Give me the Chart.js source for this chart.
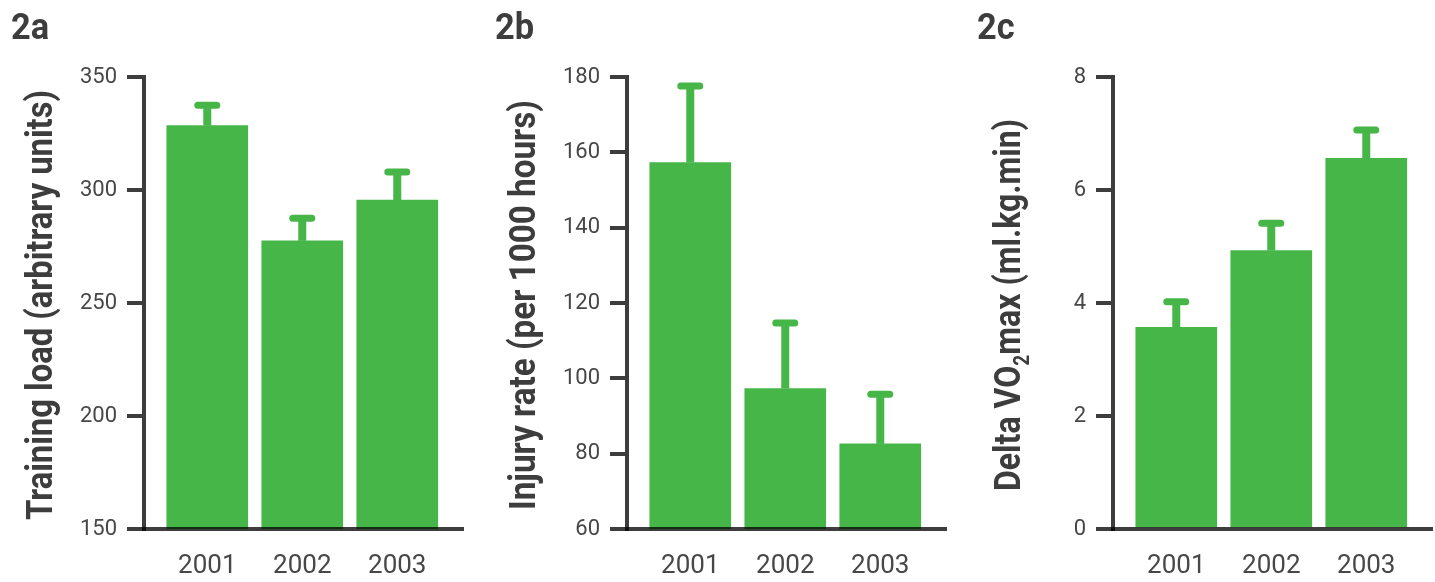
<!DOCTYPE html>
<html>
<head>
<meta charset="utf-8">
<script src="https://cdn.jsdelivr.net/npm/chart.js@4.4.1/dist/chart.umd.min.js"></script>
<style>
    html, body { margin: 0; padding: 0; background: #fff; }
    body { width: 1435px; height: 582px; position: relative; overflow: hidden; }
    .panel { position: absolute; top: 0; width: 466px; height: 582px; }
</style>
</head>
<body>
<div class="panel" style="left:0px"><canvas id="chart-2a" width="466" height="582"></canvas></div>
<div class="panel" style="left:483px"><canvas id="chart-2b" width="466" height="582"></canvas></div>
<div class="panel" style="left:969px"><canvas id="chart-2c" width="466" height="582"></canvas></div>

<script>
// --- data ---
const years = ['2001', '2002', '2003'];

const loadValues = [328.5, 277.5, 295.5];
const loadErrors = [9, 10, 12.5];
const loadTicks = [150, 200, 250, 300, 350];

const injuryValues = [157.3, 97.3, 82.6];
const injuryErrors = [20.3, 17.4, 13.2];
const injuryTicks = [60, 80, 100, 120, 140, 160, 180];

const vo2Values = [3.57, 4.93, 6.56];
const vo2Errors = [0.45, 0.48, 0.5];
const vo2Ticks = [0, 2, 4, 6, 8];

const GREEN = '#46b649';
const AXIS = 'rgba(0,0,0,0.76)';
const TEXT = '#474747';
const TITLE = '#3d3d3d';

/* error bars: stem from bar top to a round-capped bar */
const errorBars = {
    id: 'errorBars',
    afterDatasetsDraw(chart, args, opts) {
        const ctx = chart.ctx;
        const yScale = chart.scales.y;
        const meta = chart.getDatasetMeta(0);
        ctx.save();
        ctx.strokeStyle = GREEN;
        meta.data.forEach((bar, i) => {
            const top = yScale.getPixelForValue(opts.values[i] + opts.errors[i]);
            ctx.lineCap = 'butt';
            ctx.lineWidth = 8;
            ctx.beginPath();
            ctx.moveTo(bar.x, bar.y);
            ctx.lineTo(bar.x, top);
            ctx.stroke();
            ctx.lineCap = 'round';
            ctx.lineWidth = 7;
            ctx.beginPath();
            ctx.moveTo(bar.x - 9.5, top);
            ctx.lineTo(bar.x + 9.5, top);
            ctx.stroke();
        });
        ctx.restore();
    }
};

/* condensed bold titles: panel letter + rotated y title */
const panelText = {
    id: 'panelText',
    afterDraw(chart, args, opts) {
        const ctx = chart.ctx;
        ctx.save();
        ctx.fillStyle = TITLE;
        ctx.textBaseline = 'alphabetic';
        ctx.textAlign = 'left';

        // panel letter
        ctx.font = 'bold 37px Roboto';
        ctx.save();
        ctx.translate(opts.labelX, 39);
        ctx.scale(0.93, 1);
        ctx.fillText(opts.label, 0, 0);
        ctx.restore();

        // y title, squeezed to its length
        const parts = opts.title;
        const fontFor = p => p.sub ? 'bold 22px Roboto' : 'bold 37px Roboto';
        let total = 0;
        parts.forEach(p => { ctx.font = fontFor(p); total += ctx.measureText(p.text).width; });
        const sx = opts.titleLength / total;
        ctx.translate(opts.titleX, 305);
        ctx.rotate(-Math.PI / 2);
        ctx.scale(sx, 1);
        let u = -total / 2;
        parts.forEach(p => {
            ctx.font = fontFor(p);
            ctx.fillText(p.text, u, p.sub ? 9 : 0);
            u += ctx.measureText(p.text).width;
        });
        ctx.restore();
    }
};

function makeChart(id, values, errors, ticks, text) {
    const canvas = document.getElementById(id);
    return new Chart(canvas, {
        type: 'bar',
        data: {
            datasets: [{
                data: values.map((v, i) => ({ x: i + 1, y: v })),
                backgroundColor: GREEN,
                borderWidth: 0,
                barThickness: 81
            }]
        },
        options: {
            responsive: false,
            animation: false,
            layout: { padding: { top: 77, right: 3, left: 0, bottom: 0 } },
            plugins: {
                legend: { display: false },
                tooltip: { enabled: false },
                errorBars: { values: values, errors: errors },
                panelText: text
            },
            scales: {
                x: {
                    type: 'linear',
                    offset: false,
                    min: 0.334,
                    max: 3.692,
                    afterBuildTicks: s => { s.ticks = years.map((y, i) => ({ value: i + 1 })); },
                    afterFit: s => { s.height = 53; },
                    grid: { display: true, drawOnChartArea: false, drawTicks: false },
                    border: { display: true, color: AXIS, width: 4, z: 1 },
                    ticks: {
                        color: TEXT,
                        padding: 22,
                        font: { family: 'Roboto', size: 26 },
                        callback: v => years[v - 1] || ''
                    }
                },
                y: {
                    min: ticks[0],
                    max: ticks[ticks.length - 1],
                    afterBuildTicks: s => { s.ticks = ticks.map(v => ({ value: v })); },
                    afterFit: s => { s.width = 144; },
                    grid: { drawOnChartArea: false, drawTicks: true, tickLength: 17, lineWidth: 4, color: AXIS },
                    border: { display: true, color: AXIS, width: 4, z: 1 },
                    ticks: {
                        color: TEXT,
                        padding: 10,
                        font: { family: 'Roboto', size: 22 }
                    }
                }
            }
        },
        plugins: [errorBars, panelText]
    });
}

makeChart('chart-2a', loadValues, loadErrors, loadTicks, {
    label: '2a', labelX: 11, titleX: 52, titleLength: 430,
    title: [{ text: 'Training load (arbitrary units)' }]
});
makeChart('chart-2b', injuryValues, injuryErrors, injuryTicks, {
    label: '2b', labelX: 12, titleX: 52, titleLength: 410,
    title: [{ text: 'Injury rate (per 1000 hours)' }]
});
makeChart('chart-2c', vo2Values, vo2Errors, vo2Ticks, {
    label: '2c', labelX: 8, titleX: 51, titleLength: 372,
    title: [{ text: 'Delta VO' }, { text: '2', sub: true }, { text: 'max (ml.kg.min)' }]
});
</script>
</body>
</html>
